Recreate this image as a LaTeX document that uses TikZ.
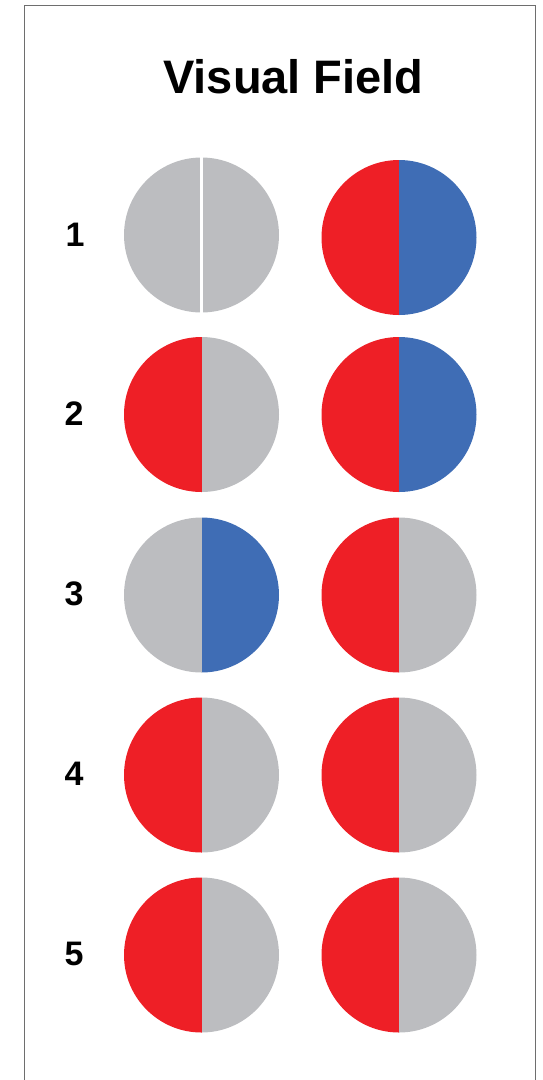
\documentclass[tikz,border=0pt]{standalone}
\usepackage{fontspec}
\setmainfont{Liberation Sans}
\usepackage{tikz}
\definecolor{fieldred}{RGB}{238,31,38}
\definecolor{fieldblue}{RGB}{63,109,181}
\definecolor{fieldgray}{RGB}{188,189,192}
\definecolor{framegray}{RGB}{110,110,110}

\begin{document}
\begin{tikzpicture}[
  x=1pt, y=-1pt,
  field/.style 2 args={
    circle, inner sep=0pt, minimum size=155pt,
    path picture={
      \fill[#1] ([shift={(-5pt,-5pt)}]path picture bounding box.south west) rectangle ([yshift=5pt]path picture bounding box.north);
      \fill[#2] ([yshift=-5pt]path picture bounding box.south) rectangle ([shift={(5pt,5pt)}]path picture bounding box.north east);
    }
  },
  rownum/.style={anchor=base, font=\fontsize{34}{34}\selectfont\bfseries},
  title/.style={anchor=base, font=\fontsize{47}{47}\selectfont\bfseries},
  gap/.style={white, line width=3pt},
]
\useasboundingbox (0,0) rectangle (542,1080);

%% Frame (open at the bottom)
\draw[framegray, line width=1pt] (24,1085) |- (535,5) -- (535,1085);

%% Title
\node[title] (head) at (293.5,93) {Visual Field};

%% Row numbers
\node[rownum] (n1) at (75,246) {1};
\node[rownum] (n2) at (74,425) {2};
\node[rownum] (n3) at (74,605) {3};
\node[rownum] (n4) at (74,785) {4};
\node[rownum] (n5) at (74,965) {5};

%% Left column
\node[field={fieldgray}{fieldgray}] (l1) at (201.5,235) {};
\node[field={fieldred}{fieldgray}]  (l2) at (201.5,414.5) {};
\node[field={fieldgray}{fieldblue}] (l3) at (201.5,595) {};
\node[field={fieldred}{fieldgray}]  (l4) at (201.5,775) {};
\node[field={fieldred}{fieldgray}]  (l5) at (201.5,955) {};

%% Right column
\node[field={fieldred}{fieldblue}]  (r1) at (399,237.5) {};
\node[field={fieldred}{fieldblue}]  (r2) at (399,414.5) {};
\node[field={fieldred}{fieldgray}]  (r3) at (399,595) {};
\node[field={fieldred}{fieldgray}]  (r4) at (399,775) {};
\node[field={fieldred}{fieldgray}]  (r5) at (399,955) {};

%% Split in the first field
\draw[gap] (l1.north) -- (l1.south);

\end{tikzpicture}
\end{document}
